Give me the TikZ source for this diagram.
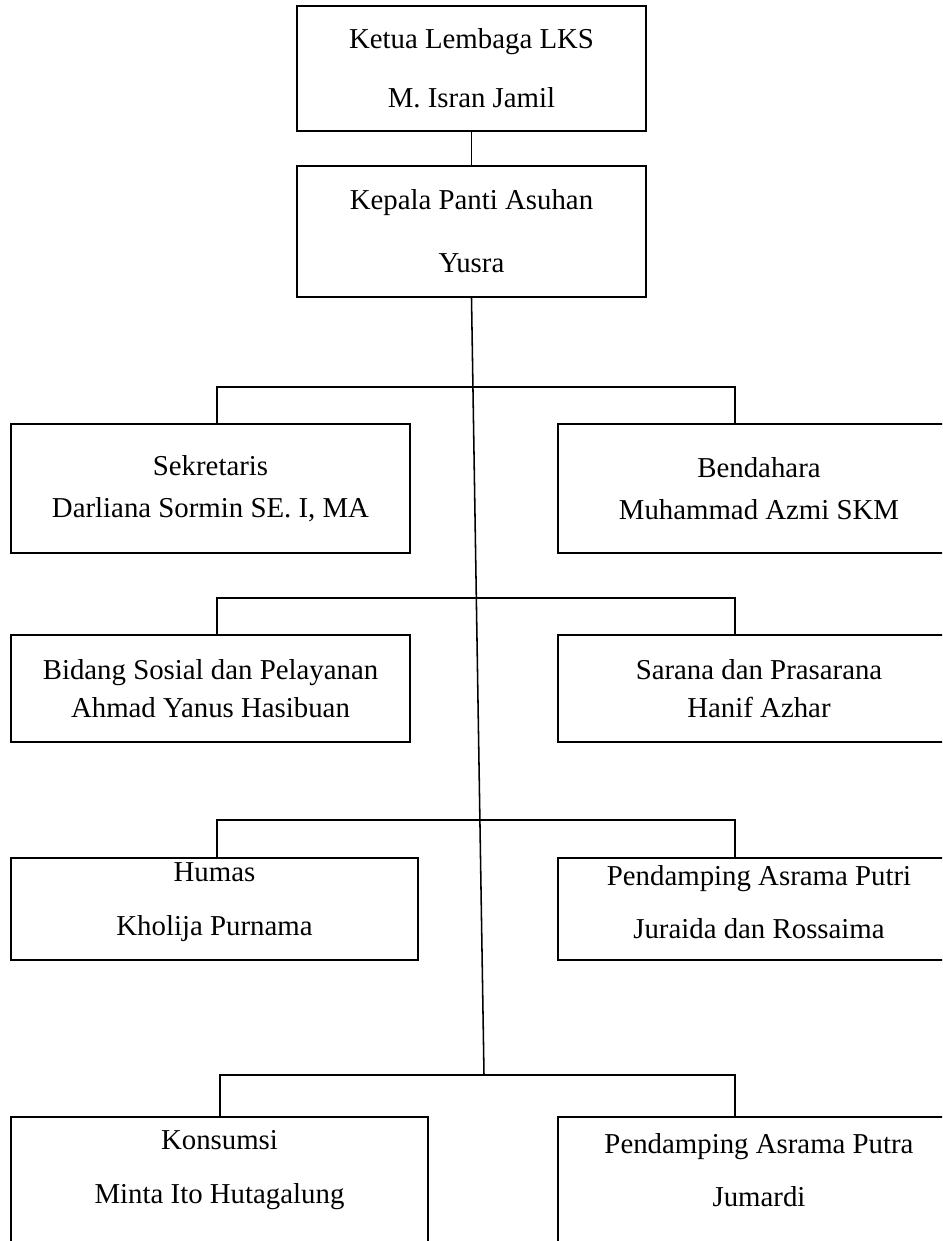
\documentclass[tikz,border=0pt]{standalone}
\usepackage{fontspec}
\setmainfont{Liberation Serif}
\usetikzlibrary{positioning}

\begin{document}
\begin{tikzpicture}[x=0.025cm, y=-0.025cm,
    every node/.style={font=\fontsize{20.5}{24}\selectfont},
    orgbox/.style={rectangle, draw, line width=1.4pt, align=center, inner sep=0pt},
    link/.style={line width=1.1pt}]
    \useasboundingbox (0,0) rectangle (942,1241);
    \clip (0,0) rectangle (942,1241);
    % Define nodes
    \node[orgbox, minimum width=8.725cm, minimum height=3.125cm](ketua) at (471.5,68.5){Ketua Lembaga LKS\\[18pt]M. Isran Jamil};
    \node[orgbox, minimum width=8.725cm, minimum height=3.275cm](kepala) at (471.5,231.5){Kepala Panti Asuhan\\[21pt]Yusra};
    \node[orgbox, minimum width=9.975cm, minimum height=3.225cm](sekretaris) at (210.5,488.5){Sekretaris\\[6pt]Darliana Sormin SE. I, MA};
    \node[orgbox, minimum width=10.05cm, minimum height=3.225cm](bendahara) at (759,488.5){Bendahara\\[6pt]Muhammad Azmi SKM};
    \node[orgbox, minimum width=9.975cm, minimum height=2.675cm](sosial) at (210.5,688.5){Bidang Sosial dan Pelayanan\\[3pt]Ahmad Yanus Hasibuan};
    \node[orgbox, minimum width=10.05cm, minimum height=2.675cm](sarana) at (759,688.5){Sarana dan Prasarana\\[3pt]Hanif Azhar};
    \node[orgbox, minimum width=10.175cm, minimum height=2.55cm](humas) at (214.5,909){};
    \node[orgbox, minimum width=10.05cm, minimum height=2.55cm](putri) at (759,909){};
    \node[align=center](humastext) at (214.5,902){Humas\\[14pt]Kholija Purnama};
    \node[align=center](putritext) at (759,902){Pendamping Asrama Putri\\[14pt]Juraida dan Rossaima};
    % bottom row runs off the page
    \node[orgbox, minimum width=10.425cm, minimum height=3.575cm](konsumsi) at (219.5,1188.5){};
    \node[orgbox, minimum width=10.05cm, minimum height=3.575cm](putra) at (759,1188.5){};
    \node[align=center](konsumsitext) at (219.5,1170){Konsumsi\\[14pt]Minta Ito Hutagalung};
    \node[align=center](putratext) at (759,1170){Pendamping Asrama Putra\\[14pt]Jumardi};
    % connections
    \coordinate (trunk) at (484,1075);
    \coordinate (r1l) at (217,387);
    \coordinate (r1r) at (735,387);
    \coordinate (r2l) at (217,598);
    \coordinate (r2r) at (735,598);
    \coordinate (r3l) at (217,820);
    \coordinate (r3r) at (735,820);
    \coordinate (r4l) at (220,1075);
    \coordinate (r4r) at (735,1075);
    \draw[link] (ketua) -- (kepala);
    \draw[link] (kepala.south) -- (trunk);
    \draw[link] (sekretaris.north -| r1l) -- (r1l) -- (r1r) -- (r1r |- bendahara.north);
    \draw[link] (sosial.north -| r2l) -- (r2l) -- (r2r) -- (r2r |- sarana.north);
    \draw[link] (humas.north -| r3l) -- (r3l) -- (r3r) -- (r3r |- putri.north);
    \draw[link] (konsumsi.north -| r4l) -- (r4l) -- (r4r) -- (r4r |- putra.north);
\end{tikzpicture}
\end{document}
